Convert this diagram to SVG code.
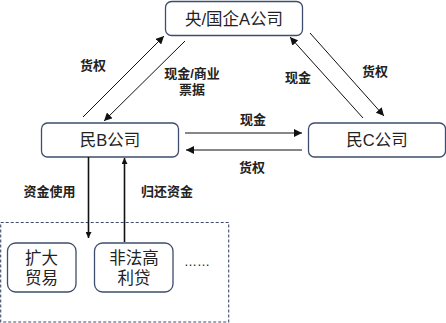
<svg xmlns="http://www.w3.org/2000/svg" width="446" height="323" viewBox="0 0 446 323">
<style>
.box{fill:#fff;stroke:#3E4D6B;stroke-width:1.3}
.t{font-family:"Liberation Sans","Noto Sans CJK SC",sans-serif;font-size:16.5px;fill:#222;text-anchor:middle}
.l{font-family:"Liberation Sans","Noto Sans CJK SC",sans-serif;font-size:13px;font-weight:bold;fill:#222;text-anchor:middle}
.c{stroke:#111;stroke-width:1;fill:none}
.v{stroke:#111;stroke-width:1.6;fill:none}
</style>
<defs>
<marker id="ah" viewBox="0 0 10 10" refX="10" refY="5" markerWidth="8" markerHeight="8" markerUnits="userSpaceOnUse" orient="auto">
<path d="M0,0 L10,5 L0,10 z" fill="#111"/>
</marker>
<marker id="ahv" viewBox="0 0 10 10" refX="10" refY="5" markerWidth="6" markerHeight="6" markerUnits="userSpaceOnUse" orient="auto">
<path d="M0,0 L10,5 L0,10 z" fill="#111"/>
</marker>
</defs>
<rect x="0.7" y="222.5" width="228" height="99.5" fill="none" stroke="#3E4D6B" stroke-width="1.1" stroke-dasharray="3,2"/>
<g id="nodeA"><rect class="box" x="165.5" y="1.5" width="137" height="34" rx="6"/><text class="t" x="234" y="24.5">央/国企A公司</text></g>
<g id="nodeB"><rect class="box" x="41.5" y="123" width="137" height="34" rx="6"/><text class="t" x="110" y="146">民B公司</text></g>
<g id="nodeC"><rect class="box" x="308.5" y="123" width="137" height="34" rx="6"/><text class="t" x="377" y="146">民C公司</text></g>
<g id="nodeD"><rect class="box" x="7.5" y="243" width="68.5" height="49" rx="8"/><text class="t" x="41.5" y="264">扩大</text><text class="t" x="41.5" y="283.5">贸易</text></g>
<g id="nodeE"><rect class="box" x="94.5" y="243" width="78.5" height="49" rx="8"/><text class="t" x="134" y="264">非法高</text><text class="t" x="134" y="283.5">利贷</text></g>
<text x="197" y="266" font-family="Liberation Sans,sans-serif" font-size="13" fill="#222" text-anchor="middle">……</text>
<g id="connectors">
<line class="c" x1="83" y1="117" x2="164" y2="36" marker-end="url(#ah)"/>
<line class="c" x1="185" y1="41" x2="104" y2="121" marker-end="url(#ah)"/>
<line class="c" x1="363" y1="118" x2="290" y2="37" marker-end="url(#ah)"/>
<line class="c" x1="310" y1="33" x2="384" y2="116" marker-end="url(#ah)"/>
<line class="c" x1="185" y1="133" x2="302" y2="133" marker-end="url(#ah)"/>
<line class="c" x1="302" y1="150" x2="186" y2="150" marker-end="url(#ah)"/>
<line class="v" x1="88.5" y1="157" x2="88.5" y2="238" marker-end="url(#ahv)"/>
<line class="v" x1="124.5" y1="242" x2="124.5" y2="158" marker-end="url(#ahv)"/>
</g>
<g id="labels">
<text class="l" x="93" y="70">货权</text>
<text class="l" x="192" y="78">现金/商业</text>
<text class="l" x="192" y="94">票据</text>
<text class="l" x="298" y="82">现金</text>
<text class="l" x="375" y="76">货权</text>
<text class="l" x="253" y="124">现金</text>
<text class="l" x="252" y="172">货权</text>
<text class="l" x="49.5" y="196">资金使用</text>
<text class="l" x="167" y="196">归还资金</text>
</g>
</svg>
